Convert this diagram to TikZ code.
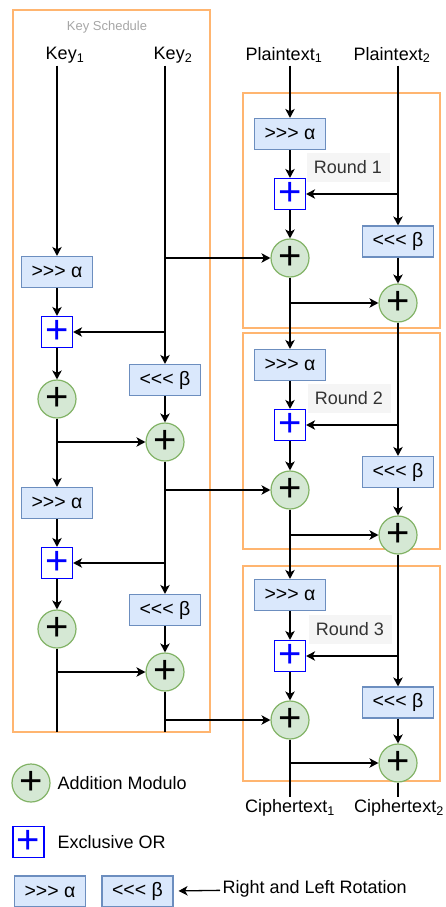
\documentclass[tikz,border=0pt]{standalone}
\usepackage{fontspec}
\setmainfont{Liberation Sans}
\usepackage{tikz}
\usepackage{xcolor}
\usetikzlibrary{calc, arrows.meta, positioning}

\definecolor{rotfill}{HTML}{DAE8FC}
\definecolor{rotline}{HTML}{6C8EBF}
\definecolor{addfill}{HTML}{D5E8D4}
\definecolor{addline}{HTML}{82B366}
\definecolor{frameline}{HTML}{FFB570}
\definecolor{lblfill}{HTML}{F5F5F5}
\definecolor{lbltext}{HTML}{333333}

\begin{document}
\begin{tikzpicture}[>={Stealth[length=9pt,width=9.5pt,inset=2.5pt]}, x=1pt, y=-1pt,
  line width=1.3pt,
  txt/.style={font=\fontsize{18}{21}\selectfont, inner sep=2pt},
  rotbox/.style={draw=rotline, fill=rotfill, line width=1.2pt, minimum width=71pt, minimum height=31pt, inner sep=0pt, font=\fontsize{19.5}{21}\selectfont},
  addc/.style={circle, draw=addline, fill=addfill, line width=1.2pt, minimum size=38pt, inner sep=0pt, font=\fontsize{40}{40}\selectfont},
  xorbox/.style={draw=blue, fill=white, line width=1.2pt, minimum size=31pt, inner sep=0pt, text=blue, font=\fontsize{40}{40}\selectfont},
  frame/.style={draw=frameline, line width=1.3pt},
  roundlbl/.style={fill=lblfill, text=lbltext, minimum width=83pt, minimum height=29pt, inner sep=0pt, font=\fontsize{18}{21}\selectfont}]
  \useasboundingbox (0,0) rectangle (445,907);

  % frames
  \draw[frame] (13,10) rectangle (210,732);
  \draw[frame] (243,93) rectangle (440,328);
  \draw[frame] (243,333) rectangle (440,549);
  \draw[frame] (243,566) rectangle (440,781);
  \node[text=gray!70, font=\fontsize{13}{15}\selectfont] (ks) at (107,27) {Key Schedule};

  % inputs
  \node[txt] (key1) at (65,55) {Key\textsubscript{1}};
  \node[txt] (key2) at (173,55) {Key\textsubscript{2}};
  \node[txt] (pt1) at (284,55) {Plaintext\textsubscript{1}};
  \node[txt] (pt2) at (392,55) {Plaintext\textsubscript{2}};

  % key schedule
  \node[rotbox] (kror1) at (57,272) {>{}>{}> α};
  \node[xorbox] (kxor1) at (57,332) {+};
  \node[rotbox] (krol1) at (165,380) {<{}<{}< β};
  \node[addc] (kadd1) at (57,399) {+};
  \node[addc] (kadd2) at (165,442) {+};
  \node[rotbox] (kror2) at (57,503) {>{}>{}> α};
  \node[xorbox] (kxor2) at (57,563) {+};
  \node[rotbox] (krol2) at (165,610) {<{}<{}< β};
  \node[addc] (kadd3) at (57,629) {+};
  \node[addc] (kadd4) at (165,672) {+};
  \coordinate (kend1) at (57,732);
  \coordinate (kend2) at (165,732);

  % round 1
  \node[roundlbl] (lbl1) at (348,167.5) {Round 1};
  \node[rotbox] (ror1) at (290,134) {>{}>{}> α};
  \node[xorbox] (xor1) at (290,194) {+};
  \node[rotbox] (rol1) at (398,241.5) {<{}<{}< β};
  \node[addc] (add1) at (290,258) {+};
  \node[addc] (add2) at (398,303) {+};
  % round 2
  \node[roundlbl] (lbl2) at (349,398.5) {Round 2};
  \node[rotbox] (ror2) at (290,365) {>{}>{}> α};
  \node[xorbox] (xor2) at (290,425) {+};
  \node[rotbox] (rol2) at (398,472) {<{}<{}< β};
  \node[addc] (add3) at (290,490) {+};
  \node[addc] (add4) at (398,535) {+};
  % round 3
  \node[roundlbl] (lbl3) at (350,629) {Round 3};
  \node[rotbox] (ror3) at (290,595) {>{}>{}> α};
  \node[xorbox] (xor3) at (290,656) {+};
  \node[rotbox] (rol3) at (398,702.5) {<{}<{}< β};
  \node[addc] (add5) at (290,720) {+};
  \node[addc] (add6) at (398,763) {+};

  % outputs
  \node[txt] (ct1) at (290,808) {Ciphertext\textsubscript{1}};
  \node[txt] (ct2) at (399,808) {Ciphertext\textsubscript{2}};

  % key schedule wiring
  \draw[->] (key1.south -| kror1) -- (kror1);
  \draw[->] (kror1) -- (kxor1);
  \draw[->] (kxor1) -- (kadd1);
  \draw[->] (key2.south -| krol1) -- (krol1);
  \draw[->] (krol1 |- add1) -- (add1);
  \draw[->] (krol1 |- kxor1) -- (kxor1);
  \draw[->] (krol1) -- (kadd2);
  \draw[->] (kadd1) -- (kror2);
  \draw[->] (kadd1 |- kadd2) -- (kadd2);
  \draw[->] (kror2) -- (kxor2);
  \draw[->] (kxor2) -- (kadd3);
  \draw[->] (kadd2) -- (krol2);
  \draw[->] (krol2 |- add3) -- (add3);
  \draw[->] (krol2 |- kxor2) -- (kxor2);
  \draw[->] (krol2) -- (kadd4);
  \draw (kadd3) -- (kend1);
  \draw[->] (kadd3 |- kadd4) -- (kadd4);
  \draw (kadd4) -- (kend2);
  \draw[->] (kadd4 |- add5) -- (add5);

  % round wiring
  \draw[->] (pt1.south -| ror1) -- (ror1);
  \draw[->] (ror1) -- (xor1);
  \draw[->] (xor1) -- (add1);
  \draw[->] (pt2.south -| rol1) -- (rol1);
  \draw[->] (rol1 |- xor1) -- (xor1);
  \draw[->] (rol1) -- (add2);
  \draw[->] (add1) -- (ror2);
  \draw[->] (add1 |- add2) -- (add2);

  \draw[->] (ror2) -- (xor2);
  \draw[->] (xor2) -- (add3);
  \draw[->] (add2) -- (rol2);
  \draw[->] (rol2 |- xor2) -- (xor2);
  \draw[->] (rol2) -- (add4);
  \draw[->] (add3) -- (ror3);
  \draw[->] (add3 |- add4) -- (add4);

  \draw[->] (ror3) -- (xor3);
  \draw[->] (xor3) -- (add5);
  \draw[->] (add4) -- (rol3);
  \draw[->] (rol3 |- xor3) -- (xor3);
  \draw[->] (rol3) -- (add6);
  \draw (add5) -- (ct1);
  \draw[->] (add5 |- add6) -- (add6);
  \draw (add6) -- (ct2.north -| add6);

  % legend
  \node[addc] (lgadd) at (31,783) {+};
  \node[txt, anchor=west] (lgaddt) at (55,783) {Addition Modulo};
  \node[xorbox] (lgxor) at (28.5,842) {+};
  \node[txt, anchor=west] (lgxort) at (55,842) {Exclusive OR};
  \node[rotbox] (lgror) at (50,891.5) {>{}>{}> α};
  \node[rotbox] (lgrol) at (137.5,891.5) {<{}<{}< β};
  \node[txt, anchor=west] (lgrott) at (220,889) {Right and Left Rotation};
  \draw[->, shorten >=5pt] (lgrott) -- (lgrol);
\end{tikzpicture}
\end{document}
